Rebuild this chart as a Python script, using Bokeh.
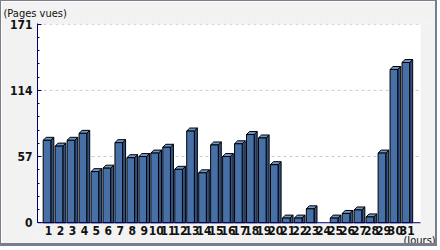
from bokeh.plotting import figure
from bokeh.models import (ColumnDataSource, FixedTicker, Range1d, Title, Label,
                          BoxAnnotation)
from bokeh.core.properties import value
from bokeh.embed import file_html
from bokeh.resources import INLINE

days = list(range(1, 32))
views = [71, 66, 71, 77, 44, 47, 69, 56, 57, 60, 65, 46, 79, 43, 67, 57,
         68, 76, 73, 50, 4, 4, 12, 0, 4, 8, 11, 5, 60, 132, 138]
y_ticks = [0, 57, 114, 171]
day_labels = [str(d) for d in days]
y_label = "(Pages vues)"
x_label = "(Jours)"

FONT = "'Liberation Sans Narrow', 'DejaVu Sans Condensed', sans-serif"
FRONT = "#4670a6"
TOP = "#7396c8"
SIDE = "#2f5288"
AXIS = "#00006e"

W, H = 437, 246
LEFT_PX, RIGHT_PX = 36, 419        # plotting area, canvas pixels
TOP_PX, ZERO_PX = 20, 221
X_LO, X_HI = 0.08, 32.1            # x extent of the white plotting area
Y_MAX = 171.6
ky = (ZERO_PX - TOP_PX) / Y_MAX
kx = (RIGHT_PX - LEFT_PX) / (X_HI - X_LO)
y_min = -(H - ZERO_PX) / ky
x_max = X_HI + (W - RIGHT_PX) / kx

p = figure(width=W, height=H, output_backend="svg", toolbar_location=None,
           x_range=Range1d(X_LO, x_max), y_range=Range1d(y_min, Y_MAX),
           min_border_left=LEFT_PX, min_border_right=0, min_border_top=TOP_PX,
           min_border_bottom=0)
p.styles = {"border-left": "1px solid #7a7e8c", "border-top": "1px solid #7a7e8c",
            "border-right": "2px solid #7a7e8c", "border-bottom": "3px solid #7a7e8c"}
p.background_fill_color = "#f2f2f2"
p.border_fill_color = "#f2f2f2"
p.outline_line_color = None
p.xaxis.visible = False
p.xgrid.visible = False
p.ygrid.visible = False

# white plotting area
p.add_layout(BoxAnnotation(bottom=0, right=X_HI, fill_color="white", fill_alpha=1,
                           line_color=None, level="image"))

# dashed grid lines at the y ticks
g = y_ticks[1:]
p.segment(x0=[X_LO] * len(g), x1=[X_HI] * len(g), y0=g, y1=g,
          line_color="#c8c8c8", line_dash="3 3", line_width=1)

# 3D bar geometry (style, in data units)
bw = 0.64
dx = 3 / kx
dy = 3 / ky

xs_f, tops_f = [], []
top_xs, top_ys, side_xs, side_ys = [], [], [], []
for d, v in zip(days, views):
    if v <= 0:
        continue
    xl = d - 0.125 - bw / 2
    xr = d - 0.125 + bw / 2
    xs_f.append(d - 0.125)
    tops_f.append(v)
    top_xs.append([xl, xl + dx, xr + dx, xr])
    top_ys.append([v, v + dy, v + dy, v])
    side_xs.append([xr, xr, xr + dx, xr + dx])
    side_ys.append([0, v, v + dy, 0])

p.patches(side_xs, side_ys, fill_color=SIDE, line_color="black", line_width=1)
p.patches(top_xs, top_ys, fill_color=TOP, line_color="black", line_width=1)
src = ColumnDataSource(dict(x=xs_f, top=tops_f))
p.vbar(x="x", top="top", bottom=0, width=bw, source=src,
       fill_color=FRONT, line_color="black", line_width=1)

# x axis line and day labels
p.segment(x0=[X_LO], x1=[X_HI], y0=[0], y1=[0], line_color=AXIS, line_width=1)
p.text(x=days, y=[0] * len(days), text=day_labels, y_offset=3,
       text_align="center", text_baseline="top", text_font=value(FONT),
       text_font_size="12px", text_font_style="bold", text_color="#111111")

# y axis
minor = [y_ticks[-1] * i / 15 for i in range(16)]
p.yaxis.ticker = FixedTicker(ticks=y_ticks, minor_ticks=minor)
p.yaxis.bounds = (0, Y_MAX)
p.yaxis.axis_line_color = AXIS
p.yaxis.major_tick_line_color = AXIS
p.yaxis.minor_tick_line_color = AXIS
p.yaxis.major_tick_in = 4
p.yaxis.major_tick_out = 0
p.yaxis.minor_tick_in = 2
p.yaxis.minor_tick_out = 0
p.yaxis.major_label_standoff = 5
p.yaxis.major_label_text_font = FONT
p.yaxis.major_label_text_font_size = "12px"
p.yaxis.major_label_text_font_style = "bold"
p.yaxis.major_label_text_color = "#111111"

p.add_layout(Title(text=y_label, align="left", offset=-34, standoff=7,
                   vertical_align="bottom", text_line_height=0.8,
                   text_font=FONT, text_font_size="11px", text_font_style="normal",
                   text_color="#111111"), "above")
# screen units: relative to the frame's bottom-left corner
p.add_layout(Label(x=366, y=7, x_units="screen", y_units="screen", text=x_label,
                   text_font=FONT, text_font_size="11px", text_color="#111111",
                   text_baseline="middle"))

open("out.html", "w").write(file_html(p, INLINE))
